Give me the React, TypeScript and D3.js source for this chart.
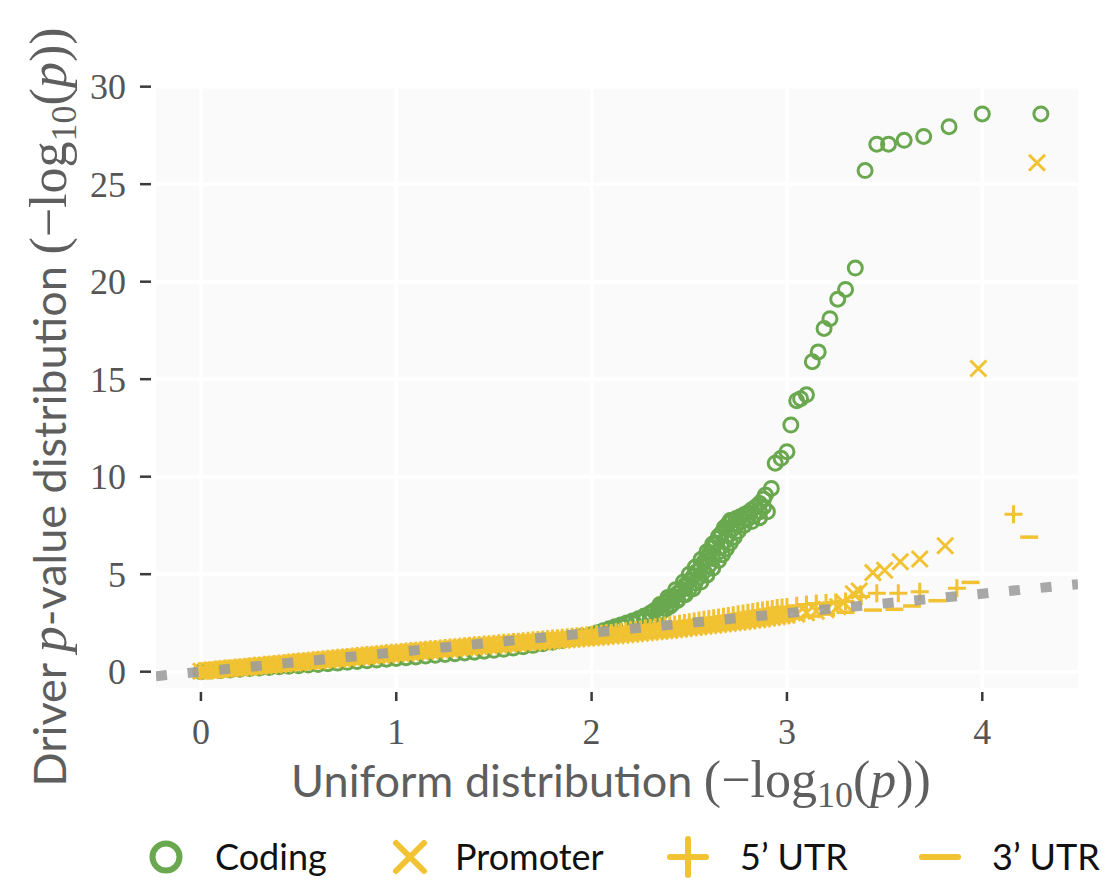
import React, { useEffect, useRef } from 'react';
import * as d3 from 'd3';

// uniform quantiles shared by the dense part of the QQ band (yellow series)
const bandX = [
  0.000, 0.025, 0.050, 0.075, 0.100, 0.125, 0.150, 0.175, 0.200, 0.225,
  0.250, 0.275, 0.300, 0.325, 0.350, 0.375, 0.400, 0.425, 0.450, 0.475,
  0.500, 0.525, 0.550, 0.575, 0.600, 0.625, 0.650, 0.675, 0.700, 0.725,
  0.750, 0.775, 0.800, 0.825, 0.850, 0.875, 0.900, 0.925, 0.950, 0.975,
  1.000, 1.025, 1.050, 1.075, 1.100, 1.125, 1.150, 1.175, 1.200, 1.225,
  1.250, 1.275, 1.300, 1.325, 1.350, 1.375, 1.400, 1.425, 1.450, 1.475,
  1.500, 1.525, 1.550, 1.575, 1.600, 1.625, 1.650, 1.675, 1.700, 1.725,
  1.750, 1.775, 1.800, 1.825, 1.850, 1.875, 1.900, 1.925, 1.950, 1.975,
  2.000, 2.025, 2.050, 2.075, 2.100, 2.125, 2.150, 2.175, 2.200, 2.225,
  2.250, 2.275, 2.300, 2.325, 2.350, 2.375, 2.400, 2.425, 2.450, 2.475,
  2.500, 2.525, 2.550, 2.575, 2.600, 2.625, 2.650, 2.675, 2.700, 2.725,
  2.750, 2.775, 2.800, 2.825, 2.850, 2.875, 2.900, 2.925, 2.950, 2.975,
  3.000,
];

const promoterBandY = [
  0.02, 0.04, 0.06, 0.08, 0.10, 0.13, 0.15, 0.17, 0.19, 0.21,
  0.23, 0.26, 0.28, 0.30, 0.32, 0.35, 0.37, 0.39, 0.41, 0.44,
  0.46, 0.49, 0.51, 0.53, 0.55, 0.58, 0.60, 0.62, 0.64, 0.67,
  0.69, 0.72, 0.74, 0.76, 0.78, 0.81, 0.83, 0.85, 0.87, 0.90,
  0.92, 0.94, 0.96, 0.99, 1.01, 1.03, 1.05, 1.08, 1.10, 1.12,
  1.14, 1.16, 1.18, 1.21, 1.23, 1.25, 1.27, 1.29, 1.31, 1.33,
  1.35, 1.37, 1.39, 1.41, 1.43, 1.45, 1.47, 1.49, 1.50, 1.52,
  1.54, 1.56, 1.58, 1.60, 1.62, 1.64, 1.66, 1.68, 1.70, 1.72,
  1.74, 1.76, 1.78, 1.81, 1.83, 1.85, 1.87, 1.90, 1.92, 1.95,
  1.97, 2.00, 2.02, 2.05, 2.07, 2.10, 2.12, 2.15, 2.18, 2.21,
  2.24, 2.27, 2.30, 2.33, 2.36, 2.39, 2.42, 2.45, 2.48, 2.51,
  2.54, 2.57, 2.60, 2.64, 2.67, 2.71, 2.74, 2.78, 2.82, 2.86,
  2.90,
];
const promoterTailX = [3.05, 3.10, 3.15, 3.20, 3.26, 3.29, 3.34, 3.37, 3.44, 3.50, 3.58, 3.68, 3.81, 3.98, 4.28];
const promoterTailY = [2.95, 3.02, 3.10, 3.18, 3.33, 3.54, 4.00, 4.14, 5.08, 5.20, 5.64, 5.78, 6.46, 15.55, 26.10];

const utr5BandY = [
  0.04, 0.06, 0.08, 0.11, 0.13, 0.16, 0.18, 0.21, 0.23, 0.26,
  0.28, 0.30, 0.32, 0.35, 0.37, 0.40, 0.42, 0.45, 0.47, 0.50,
  0.52, 0.54, 0.56, 0.59, 0.61, 0.64, 0.66, 0.69, 0.71, 0.73,
  0.75, 0.78, 0.80, 0.83, 0.85, 0.87, 0.89, 0.92, 0.94, 0.97,
  0.99, 1.01, 1.03, 1.06, 1.08, 1.10, 1.12, 1.15, 1.17, 1.19,
  1.21, 1.24, 1.26, 1.28, 1.30, 1.33, 1.35, 1.37, 1.39, 1.41,
  1.43, 1.46, 1.48, 1.50, 1.52, 1.54, 1.56, 1.59, 1.61, 1.63,
  1.65, 1.68, 1.70, 1.72, 1.74, 1.77, 1.79, 1.82, 1.84, 1.87,
  1.89, 1.92, 1.94, 1.97, 1.99, 2.02, 2.05, 2.08, 2.11, 2.14,
  2.17, 2.21, 2.24, 2.28, 2.31, 2.35, 2.38, 2.42, 2.46, 2.50,
  2.54, 2.58, 2.62, 2.66, 2.70, 2.74, 2.78, 2.82, 2.86, 2.90,
  2.94, 2.98, 3.02, 3.06, 3.10, 3.14, 3.18, 3.22, 3.26, 3.29,
  3.32,
];
const utr5TailX = [3.05, 3.10, 3.15, 3.20, 3.25, 3.30, 3.38, 3.46, 3.57, 3.68, 3.87, 4.16];
const utr5TailY = [3.38, 3.45, 3.50, 3.52, 3.55, 3.60, 3.85, 4.02, 4.02, 4.10, 4.28, 8.07];

const utr3BandY = [
  0.00, 0.02, 0.04, 0.06, 0.08, 0.10, 0.12, 0.14, 0.16, 0.19,
  0.21, 0.23, 0.25, 0.27, 0.29, 0.31, 0.33, 0.35, 0.37, 0.39,
  0.41, 0.43, 0.45, 0.47, 0.49, 0.51, 0.53, 0.55, 0.57, 0.59,
  0.61, 0.63, 0.65, 0.67, 0.69, 0.71, 0.73, 0.75, 0.77, 0.79,
  0.81, 0.83, 0.85, 0.87, 0.89, 0.91, 0.93, 0.95, 0.97, 0.99,
  1.01, 1.03, 1.05, 1.07, 1.09, 1.11, 1.13, 1.15, 1.17, 1.19,
  1.21, 1.23, 1.25, 1.27, 1.29, 1.31, 1.33, 1.35, 1.37, 1.39,
  1.41, 1.43, 1.45, 1.47, 1.49, 1.51, 1.53, 1.55, 1.57, 1.59,
  1.61, 1.63, 1.65, 1.67, 1.69, 1.71, 1.73, 1.75, 1.77, 1.79,
  1.81, 1.83, 1.86, 1.88, 1.90, 1.93, 1.95, 1.98, 2.00, 2.03,
  2.05, 2.08, 2.10, 2.13, 2.15, 2.18, 2.20, 2.23, 2.26, 2.29,
  2.32, 2.35, 2.38, 2.41, 2.45, 2.48, 2.52, 2.56, 2.60, 2.64,
  2.68,
];
const utr3TailX = [3.05, 3.12, 3.20, 3.30, 3.44, 3.55, 3.64, 3.77, 3.94, 4.24];
const utr3TailY = [2.75, 2.85, 2.95, 3.05, 3.16, 3.20, 3.37, 3.64, 4.58, 6.90];

// coding: low part (mostly hidden under the yellow band)
const codingLowX = [
  0.00, 0.05, 0.10, 0.15, 0.20, 0.25, 0.30, 0.35, 0.40, 0.45,
  0.50, 0.55, 0.60, 0.65, 0.70, 0.75, 0.80, 0.85, 0.90, 0.95,
  1.00, 1.05, 1.10, 1.15, 1.20, 1.25, 1.30, 1.35, 1.40, 1.45,
  1.50, 1.55, 1.60, 1.65, 1.70, 1.75, 1.80, 1.85, 1.90, 1.95,
  2.00,
];
const codingLowY = [
  0.00, 0.03, 0.06, 0.09, 0.12, 0.16, 0.19, 0.22, 0.25, 0.28,
  0.31, 0.34, 0.37, 0.41, 0.44, 0.48, 0.52, 0.56, 0.60, 0.64,
  0.68, 0.72, 0.76, 0.80, 0.84, 0.88, 0.92, 0.96, 1.00, 1.05,
  1.10, 1.15, 1.21, 1.28, 1.35, 1.43, 1.51, 1.60, 1.70, 1.80,
  1.90,
];
// coding: the rise (four overlapping tracks)
const codingRiseX = [
  2.03, 2.06, 2.09, 2.12, 2.15, 2.18, 2.21, 2.24, 2.27, 2.30,
  2.32, 2.34, 2.36, 2.38, 2.40, 2.42, 2.44, 2.46, 2.48, 2.50,
  2.52, 2.54, 2.56, 2.575, 2.59, 2.605, 2.62, 2.635, 2.65, 2.665,
  2.68, 2.70, 2.72, 2.74, 2.76, 2.78, 2.80, 2.82, 2.84, 2.86,
  2.88,
  2.30, 2.35, 2.40, 2.44, 2.48, 2.52, 2.56, 2.59, 2.62, 2.65,
  2.67, 2.69, 2.71, 2.73, 2.75, 2.78, 2.82, 2.86, 2.90,
  2.10, 2.16, 2.22, 2.27, 2.31, 2.35, 2.38, 2.41, 2.44, 2.47,
  2.50, 2.53, 2.55, 2.575, 2.60, 2.62, 2.645, 2.665, 2.685, 2.70,
  2.72, 2.745, 2.77, 2.80, 2.83, 2.86, 2.88,
  2.35, 2.39, 2.43, 2.47, 2.50, 2.53, 2.56, 2.59, 2.62, 2.65,
  2.68, 2.71,
];
const codingRiseY = [
  2.00, 2.10, 2.20, 2.30, 2.40, 2.50, 2.60, 2.72, 2.85, 3.00,
  3.12, 3.25, 3.40, 3.55, 3.70, 3.85, 4.02, 4.22, 4.45, 4.65,
  4.88, 5.15, 5.40, 5.62, 5.85, 6.10, 6.35, 6.60, 6.85, 7.10,
  7.35, 7.60, 7.75, 7.85, 7.95, 8.05, 8.15, 8.30, 8.45, 8.62,
  8.85,
  2.75, 3.05, 3.35, 3.65, 3.95, 4.25, 4.60, 4.95, 5.30, 5.70,
  6.00, 6.30, 6.60, 6.90, 7.20, 7.50, 7.70, 7.90, 8.20,
  2.12, 2.28, 2.45, 2.62, 2.80, 2.98, 3.22, 3.45, 3.70, 3.95,
  4.25, 4.55, 4.85, 5.15, 5.45, 5.80, 6.10, 6.40, 6.70, 7.00,
  7.30, 7.55, 7.70, 7.85, 8.00, 8.20, 8.45,
  3.45, 3.80, 4.20, 4.60, 5.00, 5.35, 5.75, 6.15, 6.55, 6.95,
  7.40, 7.75,
];
const codingTailX = [
  2.89, 2.92, 2.94, 2.97, 3.00, 3.02, 3.05, 3.07, 3.10, 3.13,
  3.16, 3.19, 3.22, 3.26, 3.30, 3.35, 3.40, 3.46, 3.52, 3.60,
  3.70, 3.83, 4.00, 4.30,
];
const codingTailY = [
  9.06, 9.40, 10.69, 10.94, 11.28, 12.65, 13.90, 14.00, 14.20, 15.90,
  16.40, 17.60, 18.10, 19.10, 19.60, 20.70, 25.70, 27.05, 27.05, 27.25,
  27.45, 27.95, 28.60, 28.60,
];

const xTicks = [0, 1, 2, 3, 4];
const yTicks = [0, 5, 10, 15, 20, 25, 30];
const legendLabels = ['Coding', 'Promoter', "5\u2019 UTR", "3\u2019 UTR"];

const GREEN = '#6aa84f';
const YELLOW = '#f1c232';
const SERIF = '"Liberation Serif", "DejaVu Serif", serif';
const SANS = 'Lato, "Open Sans", sans-serif';

type Pt = [number, number];
const zip = (xs: number[], ys: number[]): Pt[] => xs.map((v, i) => [v, ys[i]]);

function markerPath(kind: string, s: number) {
  if (kind === 'x') return `M${-s},${-s}L${s},${s}M${-s},${s}L${s},${-s}`;
  if (kind === 'plus') return `M${-s},0L${s},0M0,${-s}L0,${s}`;
  return `M${-s},0L${s},0`;
}

// "(−log10(p))" typeset into a text selection
function appendLogLabel(t: d3.Selection<SVGTextElement, unknown, null, undefined>) {
  t.append('tspan').attr('font-family', SERIF).attr('font-size', 52).text('(\u2212log');
  t.append('tspan').attr('font-family', SERIF).attr('font-size', 36).attr('dy', 10).text('10');
  t.append('tspan').attr('font-family', SERIF).attr('font-size', 52).attr('dy', -10).text('(');
  t.append('tspan').attr('font-family', SERIF).attr('font-style', 'italic').attr('font-size', 52).text('p');
  t.append('tspan').attr('font-family', SERIF).attr('font-size', 52).text('))');
}

export default function App() {
  const ref = useRef<SVGSVGElement>(null);

  useEffect(() => {
    const svg = d3.select(ref.current);
    svg.selectAll('*').remove();

    const x = d3.scaleLinear().domain([-0.23, 4.49]).range([156, 1078]);
    const y = d3.scaleLinear().domain([-0.836, 30.05]).range([688, 85.7]);
    const [x0, x1] = x.range();
    const [y0, y1] = y.range();

    svg.append('defs').append('clipPath').attr('id', 'panel')
      .append('rect').attr('x', x0).attr('y', y1).attr('width', x1 - x0).attr('height', y0 - y1);

    svg.append('rect')
      .attr('x', x0).attr('y', y1).attr('width', x1 - x0).attr('height', y0 - y1)
      .attr('fill', '#fafafa');

    const grid = svg.append('g').attr('stroke', '#fff').attr('stroke-width', 3.5);
    grid.selectAll('.gy').data(yTicks).enter().append('line')
      .attr('x1', x0).attr('x2', x1).attr('y1', d => y(d)).attr('y2', d => y(d));
    grid.selectAll('.gx').data(xTicks).enter().append('line')
      .attr('y1', y0).attr('y2', y1).attr('x1', d => x(d)).attr('x2', d => x(d));

    // ticks + labels
    const axes = svg.append('g');
    axes.selectAll('.ty').data(yTicks).enter().append('line')
      .attr('x1', 140).attr('x2', 151).attr('y1', d => y(d)).attr('y2', d => y(d))
      .attr('stroke', '#3a3a3a').attr('stroke-width', 2.5);
    axes.selectAll('.ly').data(yTicks).enter().append('text')
      .text(d => d)
      .attr('x', 126).attr('y', d => y(d) + 12.5)
      .attr('text-anchor', 'end')
      .attr('font-family', SERIF).attr('font-size', 36).attr('fill', '#555');
    axes.selectAll('.tx').data(xTicks).enter().append('line')
      .attr('y1', 692).attr('y2', 701).attr('x1', d => x(d)).attr('x2', d => x(d))
      .attr('stroke', '#3a3a3a').attr('stroke-width', 2.5);
    axes.selectAll('.lx').data(xTicks).enter().append('text')
      .text(d => d)
      .attr('x', d => x(d)).attr('y', 744)
      .attr('text-anchor', 'middle')
      .attr('font-family', SERIF).attr('font-size', 36).attr('fill', '#555');

    // points
    const plot = svg.append('g').attr('clip-path', 'url(#panel)');
    const coding = zip(codingLowX, codingLowY)
      .concat(zip(codingRiseX, codingRiseY), zip(codingTailX, codingTailY));
    plot.append('g').selectAll('circle').data(coding).enter().append('circle')
      .attr('cx', d => x(d[0])).attr('cy', d => y(d[1])).attr('r', 7)
      .attr('fill', 'none').attr('stroke', GREEN).attr('stroke-width', 3);

    const yellowSeries: [string, number, Pt[]][] = [
      ['x', 8, zip(bandX, promoterBandY).concat(zip(promoterTailX, promoterTailY))],
      ['plus', 9, zip(bandX, utr5BandY).concat(zip(utr5TailX, utr5TailY))],
      ['minus', 9, zip(bandX, utr3BandY).concat(zip(utr3TailX, utr3TailY))],
    ];
    yellowSeries.forEach(([kind, s, pts]) => {
      plot.append('g').selectAll('path').data(pts).enter().append('path')
        .attr('d', markerPath(kind, s))
        .attr('transform', d => `translate(${x(d[0])},${y(d[1])})`)
        .attr('fill', 'none').attr('stroke', YELLOW)
        .attr('stroke-width', kind === 'minus' ? 3.5 : 3);
    });

    // y = x reference line
    const [dx0, dx1] = x.domain();
    plot.append('line')
      .attr('x1', x(dx0)).attr('y1', y(dx0)).attr('x2', x(dx1)).attr('y2', y(dx1))
      .attr('stroke', '#9c9c9c').attr('stroke-opacity', 0.88)
      .attr('stroke-width', 10).attr('stroke-dasharray', '11 20.75');

    // axis titles
    const xt = svg.append('text')
      .attr('x', 611).attr('y', 797).attr('text-anchor', 'middle')
      .attr('fill', '#5e5e5e').attr('font-family', SANS).attr('font-size', 45);
    xt.append('tspan').text('Uniform distribution ');
    appendLogLabel(xt);

    const yt = svg.append('text')
      .attr('transform', `translate(66,407) rotate(-90)`)
      .attr('text-anchor', 'middle')
      .attr('fill', '#5e5e5e').attr('font-family', SANS).attr('font-size', 45);
    yt.append('tspan').text('Driver ');
    yt.append('tspan').attr('font-family', SERIF).attr('font-style', 'italic').attr('font-size', 52).text('p');
    yt.append('tspan').text('-value distribution ');
    appendLogLabel(yt);

    // legend
    const legendX = [166, 410, 688, 940];
    const legendKinds = ['circle', 'x', 'plus', 'minus'];
    const ly = 857;
    const leg = svg.append('g');
    legendLabels.forEach((label, i) => {
      const cx = legendX[i];
      const kind = legendKinds[i];
      if (kind === 'circle') {
        leg.append('circle').attr('cx', cx).attr('cy', ly).attr('r', 13.5)
          .attr('fill', 'none').attr('stroke', GREEN).attr('stroke-width', 6);
      } else {
        leg.append('path')
          .attr('d', markerPath(kind, kind === 'x' ? 14 : 18))
          .attr('transform', `translate(${cx},${ly})`)
          .attr('fill', 'none').attr('stroke', YELLOW).attr('stroke-width', 6)
          .attr('stroke-linecap', 'round');
      }
      leg.append('text').text(label)
        .attr('x', cx + (i === 0 ? 49 : i === 1 ? 45 : 52)).attr('y', ly + 12.5)
        .attr('font-family', SANS).attr('font-size', 36).attr('fill', '#111');
    });
  }, []);

  return (
    <svg ref={ref} width={1114} height={888}
      style={{ position: 'absolute', left: 0, top: 0, background: '#fff' }} />
  );
}
